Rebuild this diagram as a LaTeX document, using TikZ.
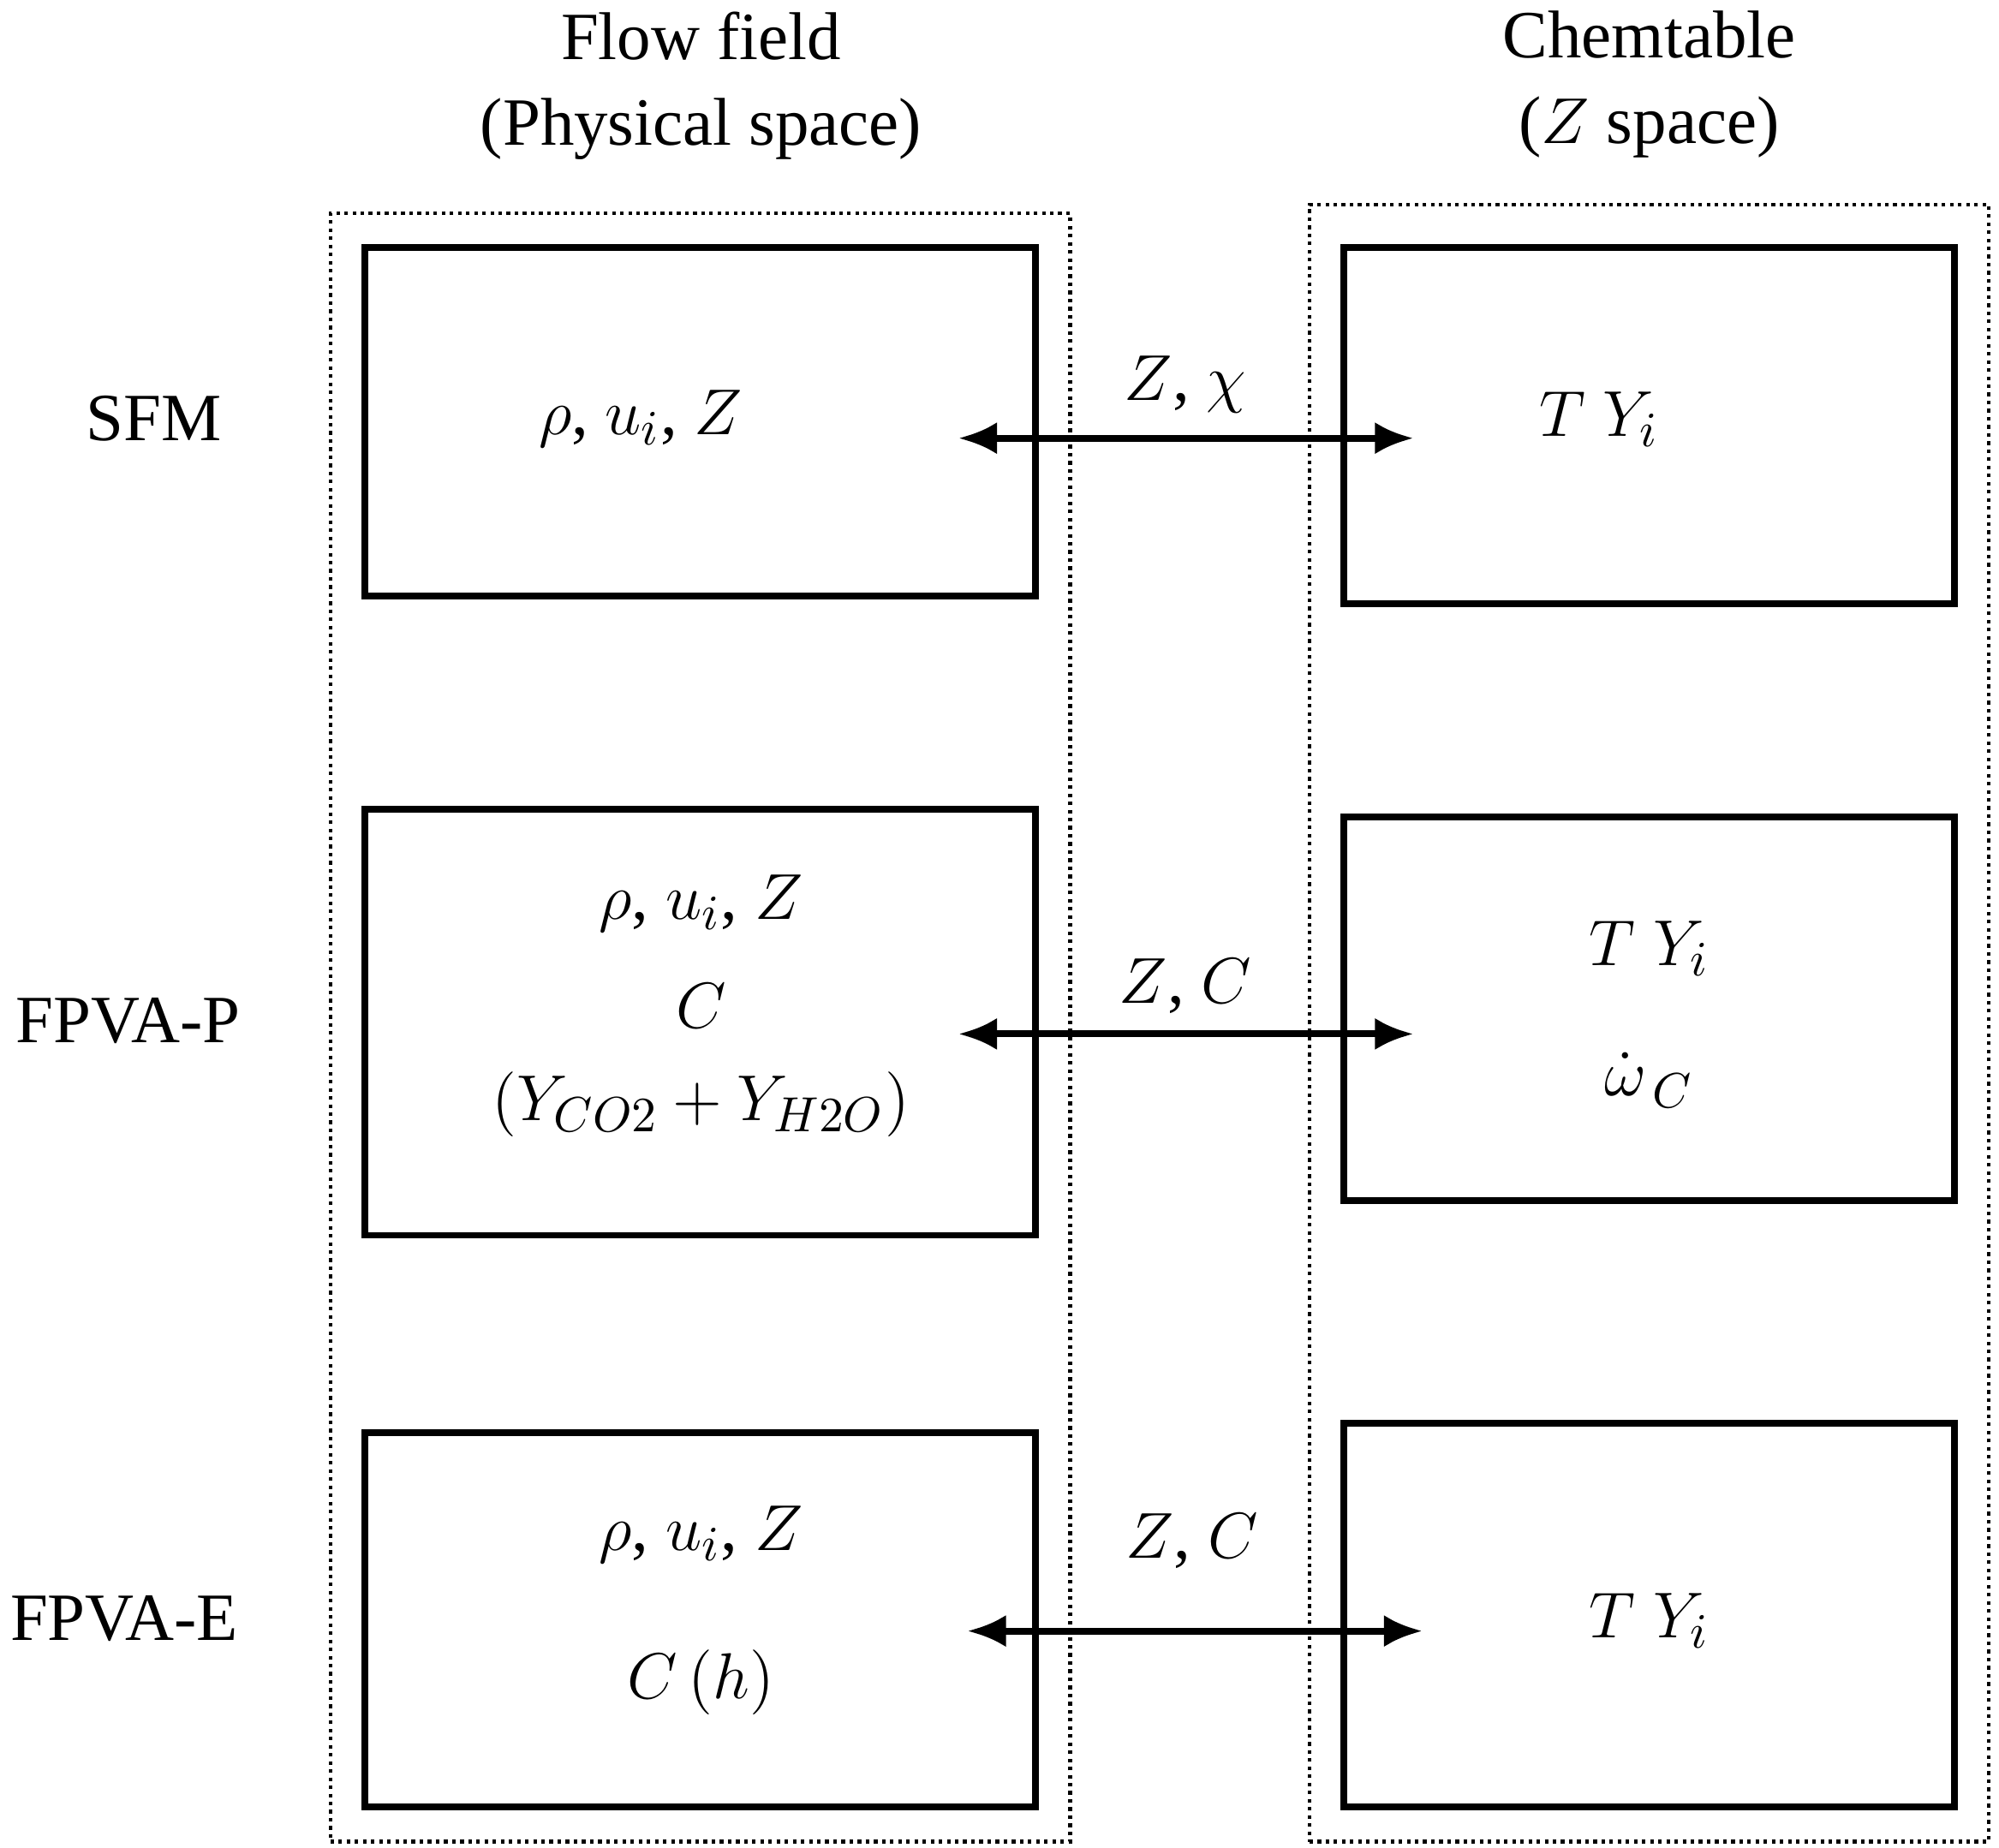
\documentclass[tikz,border=0pt]{standalone}
\usepackage{fontspec}
\setmainfont{Liberation Serif}
\usetikzlibrary{positioning,arrows.meta}
\tikzset{
  box/.style={draw,line width=1.5pt,inner sep=0pt},
  group/.style={draw,densely dotted,line width=0.8pt,inner sep=0pt},
  link/.style={line width=1.5pt,{Latex[length=0.3cm,width=0.25cm]}-{Latex[length=0.3cm,width=0.25cm]}},
  lbl/.style={font=\fontsize{15}{19}\selectfont,align=center,inner sep=1pt}
}
\begin{document}
\begin{tikzpicture}[x=0.01cm,y=-0.01cm]
\useasboundingbox (0,0) rectangle (1560,1442);
% dotted groups
\path
  (546.5,802) node [group,minimum width=5.77cm,minimum height=12.70cm] (flow) {}
  (1287,798.5) node [group,minimum width=5.30cm,minimum height=12.77cm] (table) {};
% headings
\node [lbl] (flowhead) at (547,67) {Flow field\\(Physical space)};
\node [lbl] (tablehead) at (1287,66) {Chemtable\\($Z$ space)};
% flow field boxes
\path
  (546.5,329) node [box,minimum width=5.23cm,minimum height=2.72cm] (sfm) {}
  (546.5,798) node [box,minimum width=5.23cm,minimum height=3.32cm] (fpvap) {}
  (546.5,1264) node [box,minimum width=5.23cm,minimum height=2.92cm] (fpvae) {};
% chemtable boxes
\path
  (1287,332) node [box,minimum width=4.76cm,minimum height=2.78cm] (tsfm) {}
  (1287,787.5) node [box,minimum width=4.76cm,minimum height=2.99cm] (tfpvap) {}
  (1287,1260.5) node [box,minimum width=4.76cm,minimum height=2.99cm] (tfpvae) {};
% row labels
\node [lbl] (rsfm) at (120,327) {SFM};
\node [lbl] (rfpvap) at (100,797) {FPVA-P};
\node [lbl] (rfpvae) at (97,1263) {FPVA-E};
% contents
\node [lbl] at (500,327) {$\rho$, $u_i$, $Z$};
\node [lbl] at (1248,327) {$T\;Y_i$};
\node [lbl] at (547,705) {$\rho$, $u_i$, $Z$};
\node [lbl] at (547,785) {$C$};
\node [lbl] at (547,862) {$(Y_{CO2}+Y_{H2O})$};
\node [lbl] at (1287,740) {$T\;Y_i$};
\node [lbl] at (1287,843) {$\dot\omega_{\,C}$};
\node [lbl] at (547,1198) {$\rho$, $u_i$, $Z$};
\node [lbl] at (547,1313) {$C\,(h)$};
\node [lbl] at (1287,1265) {$T\;Y_i$};
% links
\coordinate (a1) at (748,342); \coordinate (b1) at (1103,342);
\coordinate (a2) at (748,807); \coordinate (b2) at (1103,807);
\coordinate (a3) at (755,1273); \coordinate (b3) at (1110,1273);
\draw [link] (a1) -- (b1);
\draw [link] (a2) -- (b2);
\draw [link] (a3) -- (b3);
\node [lbl] (l1) at (925,300) {$Z$, $\chi$};
\node [lbl] (l2) at (925,770) {$Z$, $C$};
\node [lbl] (l3) at (930,1203) {$Z$, $C$};
\end{tikzpicture}
\end{document}
